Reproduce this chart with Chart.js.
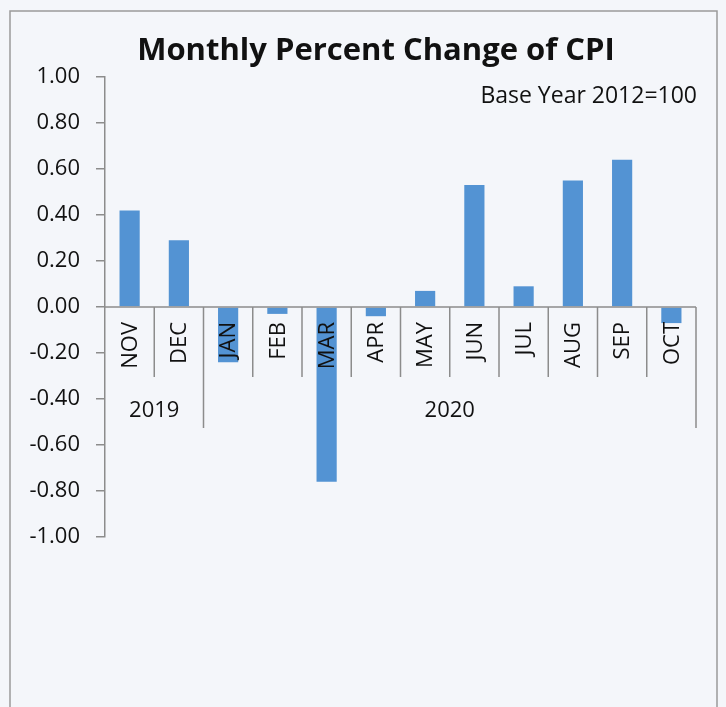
<!DOCTYPE html>
<html>
<head>
<meta charset="utf-8">
<script src="https://cdn.jsdelivr.net/npm/chart.js@4"></script>
<style>
  html, body { margin: 0; padding: 0; background: #f4f6fa; }
  canvas { display: block; }
</style>
</head>
<body>
<canvas id="cpi" width="726" height="707"></canvas>
<script>
const months = ['NOV', 'DEC', 'JAN', 'FEB', 'MAR', 'APR', 'MAY', 'JUN', 'JUL', 'AUG', 'SEP', 'OCT'];
const changes = [0.42, 0.29, -0.24, -0.03, -0.76, -0.04, 0.07, 0.53, 0.09, 0.55, 0.64, -0.07];
const years = ['2019', '2020'];
const monthsPerYear = [2, 10];

const FONT = "'Open Sans', 'DejaVu Sans', sans-serif";

// page, title, two-level category axis drawn round the bars
const frame = {
    id: 'frame',
    beforeDraw(chart) {
        const c = chart.ctx;
        c.save();
        c.fillStyle = '#f4f6fa';
        c.fillRect(0, 0, chart.width, chart.height);
        c.strokeStyle = '#9a9a9a';
        c.lineWidth = 1.5;
        c.strokeRect(10, 11, 707, 710);
        c.restore();
    },
    afterDatasetsDraw(chart) {
        const c = chart.ctx;
        const x = chart.scales.x;
        const y0 = chart.scales.y.getPixelForValue(0);
        const step = (x.right - x.left) / months.length;
        c.save();
        c.strokeStyle = '#8c8c8c';
        c.lineWidth = 1.5;
        c.beginPath();
        c.moveTo(x.left, y0);
        c.lineTo(x.right, y0);
        // year boundaries reach down past the year labels
        const yearEdges = [0];
        monthsPerYear.forEach(n => yearEdges.push(yearEdges[yearEdges.length - 1] + n));
        for (let i = 1; i <= months.length; i++) {
            const bx = x.left + i * step;
            const len = yearEdges.includes(i) ? 121 : 70;
            c.moveTo(bx, y0);
            c.lineTo(bx, y0 + len);
        }
        c.stroke();

        c.fillStyle = '#111';
        c.font = '22px ' + FONT;
        c.textBaseline = 'middle';
        months.forEach((m, i) => {
            c.save();
            c.translate(x.getPixelForValue(i), y0 + 15);
            c.rotate(-Math.PI / 2);
            c.textAlign = 'right';
            c.fillText(m, 0, 1);
            c.restore();
        });
        c.textAlign = 'center';
        years.forEach((yr, k) => {
            const mid = x.left + (yearEdges[k] + yearEdges[k + 1]) / 2 * step;
            c.fillText(yr, mid, y0 + 104);
        });
        c.restore();
    },
    afterDraw(chart) {
        const c = chart.ctx;
        c.save();
        c.fillStyle = '#111';
        c.textBaseline = 'middle';
        c.textAlign = 'center';
        c.font = 'bold 31px ' + FONT;
        c.fillText('Monthly Percent Change of CPI', 376, 51);
        c.textAlign = 'right';
        c.font = '23px ' + FONT;
        c.fillText('Base Year 2012=100', 697, 96);
        c.restore();
    }
};

const ctx = document.getElementById('cpi').getContext('2d');
const cpiChart = new Chart(ctx, {
    type: 'bar',
    data: {
        labels: months,
        datasets: [{
            label: 'Monthly % change',
            data: changes,
            backgroundColor: '#5393d3',
            borderWidth: 0,
            categoryPercentage: 1,
            barPercentage: 0.41
        }]
    },
    options: {
        responsive: false,
        animation: false,
        layout: { padding: { top: 77, right: 30, bottom: 170, left: 0 } },
        plugins: {
            legend: { display: false },
            tooltip: { enabled: false },
            title: { display: false }
        },
        scales: {
            x: { display: false },
            y: {
                min: -1,
                max: 1,
                afterFit(scale) { scale.width = 105; },
                ticks: {
                    stepSize: 0.2,
                    padding: 16,
                    color: '#111',
                    font: { family: FONT, size: 22 },
                    callback: v => v.toFixed(2)
                },
                grid: { drawOnChartArea: false, drawTicks: true, tickLength: 9, color: '#8c8c8c', lineWidth: 1.5 },
                border: { display: true, color: '#8c8c8c', width: 1.5 }
            }
        }
    },
    plugins: [frame]
});
</script>
</body>
</html>
